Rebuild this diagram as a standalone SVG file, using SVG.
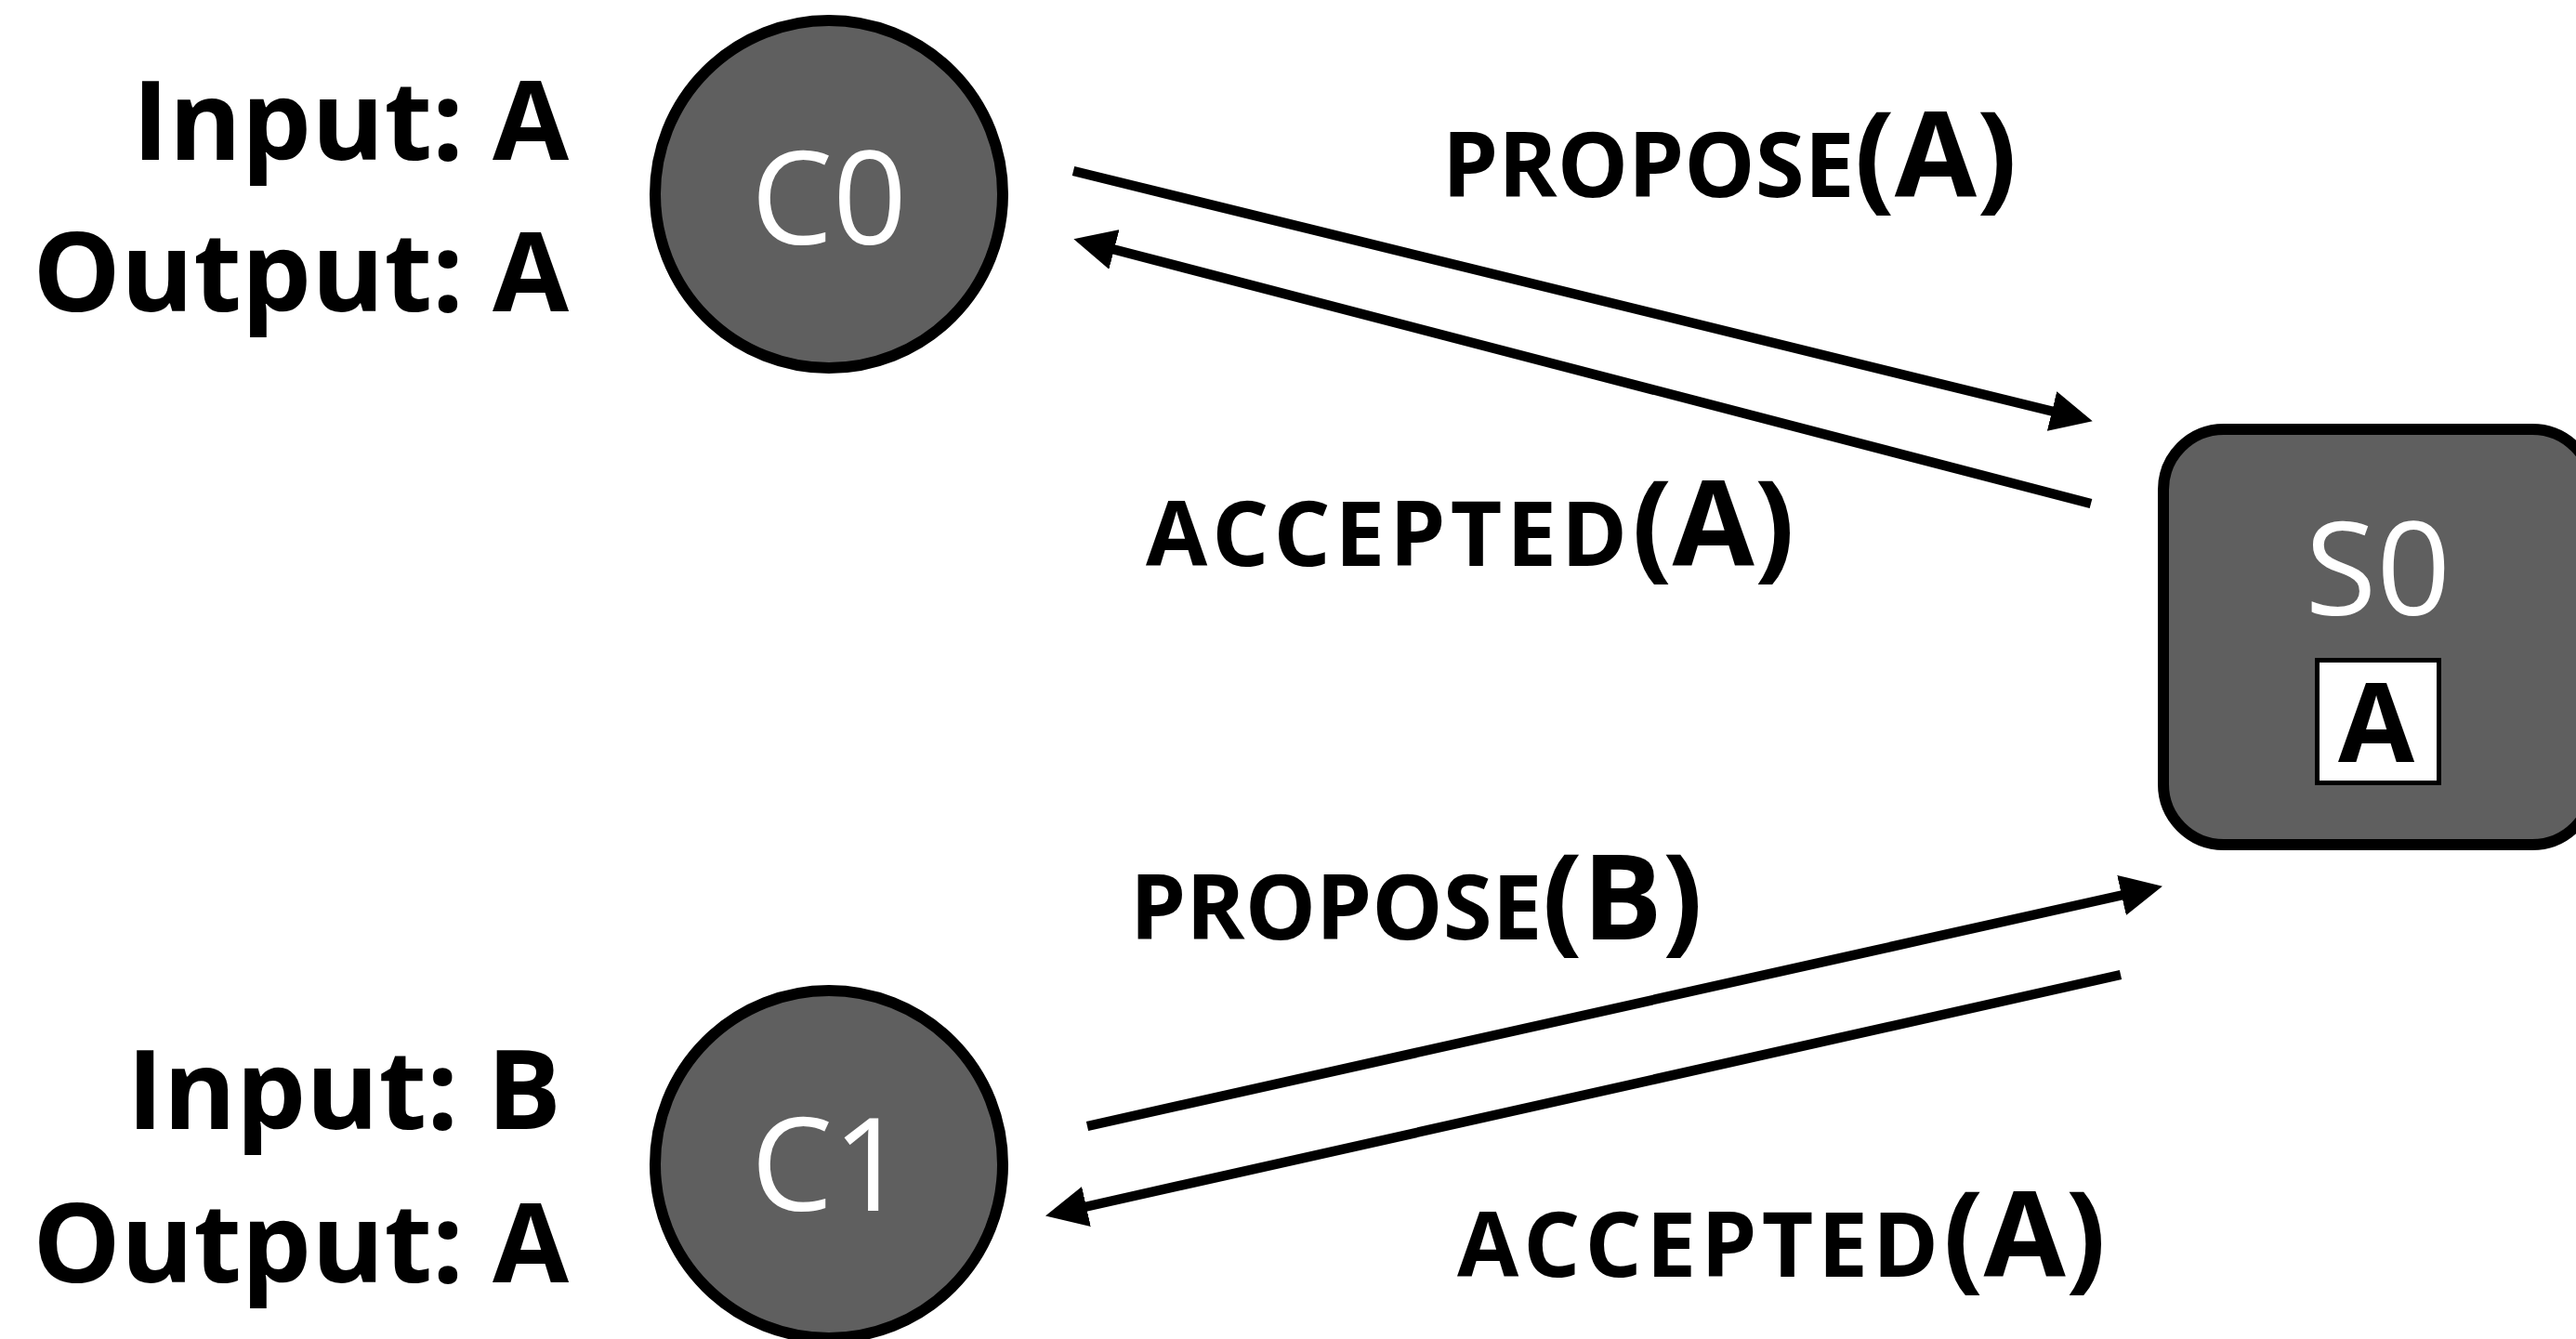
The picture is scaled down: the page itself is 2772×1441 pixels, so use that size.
<svg xmlns="http://www.w3.org/2000/svg" width="2772" height="1441" viewBox="0 0 2772 1441">
  <style>
    .node { fill: #5f5f5f; stroke: #000; stroke-width: 12; }
    .name { font-family: "Open Sans", "Noto Sans", "DejaVu Sans", sans-serif; font-size: 140px; fill: #fff; text-anchor: middle; }
    .io { font-family: "Open Sans", "Noto Sans", "DejaVu Sans", sans-serif; font-weight: 700; font-size: 119px; fill: #000; text-anchor: end; }
    .msg { font-family: "Open Sans", "Noto Sans", "DejaVu Sans", sans-serif; font-weight: 700; font-size: 96px; fill: #000; }
    .msg .wide { letter-spacing: 5px; }
    .msg .arg { font-size: 128px; letter-spacing: 0; }
    .edge { stroke: #000; stroke-width: 10.5; fill: none; marker-end: url(#head); }
  </style>
  <defs>
    <marker id="head" viewBox="0 -22 45 44" refX="2" refY="0" markerWidth="45" markerHeight="44" markerUnits="userSpaceOnUse" orient="auto">
      <path d="M0,-22 L45,0 L0,22 z" fill="#000"/>
    </marker>
  </defs>
  <rect width="2772" height="1441" fill="#fff"/>

  <!-- client labels -->
  <g id="c0-io">
    <text class="io" x="612" y="172">Input: A</text>
    <text class="io" x="612" y="335">Output: A</text>
  </g>
  <g id="c1-io">
    <text class="io" x="604" y="1215">Input: B</text>
    <text class="io" x="612" y="1380">Output: A</text>
  </g>

  <!-- clients -->
  <g id="c0">
    <circle class="node" cx="892" cy="209" r="187"/>
    <text class="name" x="892" y="263">C0</text>
  </g>
  <g id="c1">
    <circle class="node" cx="892" cy="1253" r="187"/>
    <text class="name" x="892" y="1303">C1</text>
  </g>

  <!-- server with its accepted value -->
  <g id="s0">
    <rect class="node" x="2328" y="462" width="462" height="447" rx="65" ry="65"/>
    <text class="name" x="2559" y="662">S0</text>
    <rect x="2493.5" y="710.5" width="131" height="132" fill="#fff" stroke="#000" stroke-width="5"/>
    <text x="2557" y="820" font-family="Open Sans, Noto Sans, DejaVu Sans, sans-serif" font-weight="700" font-size="119" text-anchor="middle" fill="#000">A</text>
  </g>

  <!-- messages -->
  <g id="connectors">
    <line class="edge" x1="1155" y1="184" x2="2210" y2="443"/>
    <line class="edge" x1="2250" y1="542" x2="1197" y2="268"/>
    <line class="edge" x1="1170" y1="1212" x2="2285" y2="963"/>
    <line class="edge" x1="2282" y1="1049" x2="1167" y2="1299"/>
  </g>

  <g id="labels">
    <text class="msg" x="1552" y="212">PROPOSE<tspan class="arg">(A)</tspan></text>
    <text class="msg" x="1233" y="609"><tspan class="wide">ACCEPTED</tspan><tspan class="arg">(A)</tspan></text>
    <text class="msg" x="1216" y="1011">PROPOSE<tspan class="arg">(B)</tspan></text>
    <text class="msg" x="1568" y="1374"><tspan class="wide">ACCEPTED</tspan><tspan class="arg">(A)</tspan></text>
  </g>
</svg>
